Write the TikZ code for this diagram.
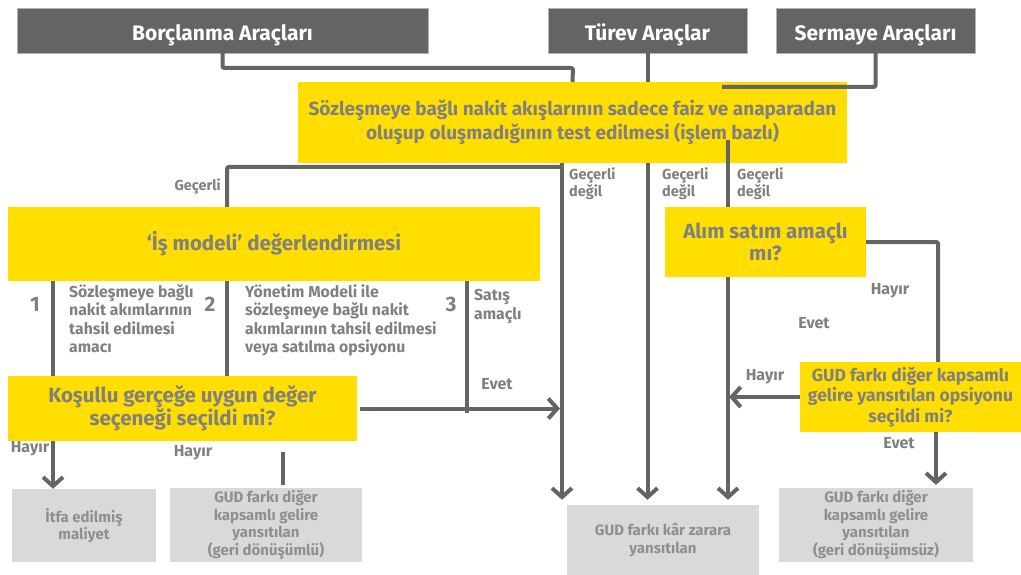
\documentclass[tikz,border=0pt]{standalone}
\usepackage{fontspec}
\setmainfont{Fira Sans}
\usetikzlibrary{arrows.meta}

\definecolor{eygrau}{HTML}{646464}
\definecolor{eygelb}{HTML}{FFDE00}
\definecolor{hellgrau}{HTML}{D9D9D9}
\definecolor{schrift}{HTML}{808080}
\definecolor{schrifthell}{HTML}{8F8F8F}

\newcommand\strichbreite{4pt}

\tikzset{
  dunkel/.style={fill=eygrau, draw=gray!60, text=white, font=\bfseries\fontsize{21}{24}\selectfont, minimum height=45pt, text height=20pt, text depth=0.5pt, inner sep=0pt},
  gelb/.style={fill=eygelb, text=schrift, font=\bfseries\fontsize{20.5}{23}\selectfont, align=center, inner sep=0pt},
  hell/.style={fill=hellgrau, text=schrifthell, font=\bfseries\fontsize{15}{17.5}\selectfont, align=center, inner sep=0pt},
  marke/.style={text=schrift, font=\bfseries\fontsize{14.5}{17}\selectfont, align=left, inner sep=0pt},
  block/.style={marke, anchor=north west, font=\bfseries\fontsize{15.8}{18.6}\selectfont},
  antwort/.style={marke, font=\bfseries\fontsize{16}{18}\selectfont},
  nummer/.style={text=schrift, font=\bfseries\fontsize{21}{24}\selectfont, inner sep=0pt},
  linie/.style={draw=eygrau, line width=\strichbreite},
  pfeil/.style={linie, -{Straight Barb[length=9pt,width=20pt]}},
}

\begin{document}
\begin{tikzpicture}[x=1pt,y=-1pt]
\useasboundingbox (0,0) rectangle (1021,575);

% Instrumente
\draw (222.5,30.5) node[dunkel, minimum width=411pt] (borc) {Borçlanma Araçları};
\draw (647.5,30.5) node[dunkel, minimum width=199pt] (turev) {Türev Araçlar};
\draw (875.5,30.5) node[dunkel, minimum width=199pt] (sermaye) {Sermaye Araçları};

% Prüfungen
\draw (572.5,122.5) node[gelb, minimum width=549pt, minimum height=81pt, font=\bfseries\fontsize{19}{24}\selectfont] (test) {Sözleşmeye bağlı nakit akışlarının sadece faiz ve anaparadan\\oluşup oluşmadığının test edilmesi (işlem bazlı)};
\draw (274,244) node[gelb, minimum width=532pt, minimum height=74pt] (model) {‘İş modeli’ değerlendirmesi};
\draw (182.5,408.5) node[gelb, minimum width=349pt, minimum height=65pt] (kosullu) {Koşullu gerçeğe uygun değer\\seçeneği seçildi mi?};
\draw (765.5,242) node[gelb, minimum width=201pt, minimum height=70pt, font=\bfseries\fontsize{20.5}{22}\selectfont] (alim) {Alım satım amaçlı\\mı?};
\draw (910.5,397) node[gelb, minimum width=221pt, minimum height=70pt, font=\bfseries\fontsize{17.5}{20.5}\selectfont] (gudoci) {GUD farkı diğer kapsamlı\\gelire yansıtılan opsiyonu\\seçildi mi?};

% Ergebnisse
\draw (84,525.5) node[hell, minimum width=144pt, minimum height=73pt] (itfa) {İtfa edilmiş\\maliyet};
\draw (266,525) node[hell, minimum width=192pt, minimum height=74pt] (geriile) {GUD farkı diğer\\kapsamlı gelire\\yansıtılan\\(geri dönüşümlü)};
\draw (663,540) node[hell, minimum width=192pt, minimum height=70pt] (karzarar) {GUD farkı kâr zarara\\yansıtılan};
\draw (876,525) node[hell, minimum width=194pt, minimum height=74pt] (gerisiz) {GUD farkı diğer\\kapsamlı gelire\\yansıtılan\\(geri dönüşümsüz)};

% Knoten
\coordinate (k1) at (573,68);
\coordinate (k2) at (722,87);
\coordinate (k3) at (562,167);
\coordinate (k4) at (227,167);
\coordinate (k5) at (728,140);
\coordinate (k6) at (938,242);
\coordinate (k7) at (467,413);
\coordinate (k8) at (53,0);
\coordinate (k9) at (283,452);
\coordinate (k10) at (936,0);

% Striche
\draw[linie, rounded corners=2pt] (borc.south) |- (k1) -- (test.north);
\draw[linie] (turev.south) -- (turev.south |- test.north);
\draw[linie, rounded corners=2pt] (sermaye.south) |- (k2);
\draw[linie, rounded corners=2pt] (k3 |- test.south) -- (k3) -- (k4) -- (k4 |- model.north);
\draw[pfeil, shorten >=5pt] (k3) -- (k3 |- karzarar.north);
\draw[pfeil, shorten >=5pt] (turev |- test.south) -- (turev |- karzarar.north);
\draw[linie] (k5) -- (k5 |- alim.north);
\draw[pfeil, shorten >=5pt] (k5 |- alim.south) -- (k5 |- karzarar.north);
\draw[linie, rounded corners=2pt] (alim.east) -- (k6) -- (k6 |- gudoci.north);
\draw[pfeil, shorten >=1pt] (gudoci.west) -- (gudoci.west -| k5);
\draw[pfeil, shorten >=3pt] (k10 |- gudoci.south) -- (k10 |- gerisiz.north);
\draw[linie] (k8 |- model.south) -- (k8 |- kosullu.north);
\draw[linie] (k4 |- model.south) -- (k4 |- kosullu.north);
\draw[linie] (k7 |- model.south) -- (k7);
\draw[pfeil, shorten <=3pt, shorten >=2pt] (kosullu.east) -- (kosullu.east -| k3);
\draw[pfeil] (k8 |- kosullu.south) -- (k8 |- itfa.north);
\draw[linie, shorten >=3pt] (k9) -- (k9 |- geriile.north);

% Beschriftung
\node[marke, anchor=east] (l1) at (221,187) {Geçerli};
\node[marke, anchor=north west] (l2) at (569,168) {Geçerli\\değil};
\node[marke, anchor=north west] (l3) at (662,168) {Geçerli\\değil};
\node[marke, anchor=north west] (l4) at (737,168) {Geçerli\\değil};
\node[nummer] (n1) at (35,304) {1};
\node[nummer] (n2) at (210,304) {2};
\node[nummer] (n3) at (451,304) {3};
\node[block] (t1) at (69,284) {Sözleşmeye bağlı\\nakit akımlarının\\tahsil edilmesi\\amacı};
\node[block] (t2) at (245,284) {Yönetim Modeli ile\\sözleşmeye bağlı nakit\\akımlarının tahsil edilmesi\\veya satılma opsiyonu};
\node[block] (t3) at (474,289) {Satış\\amaçlı};
\node[antwort] (e1) at (497,384) {Evet};
\node[antwort] (h1) at (890,291) {Hayır};
\node[antwort] (e2) at (814,323) {Evet};
\node[antwort] (h2) at (765,377) {Hayır};
\node[antwort] (e3) at (899,443) {Evet};
\node[antwort] (h3) at (30,449) {Hayır};
\node[antwort] (h4) at (193,453) {Hayır};

\end{tikzpicture}
\end{document}
